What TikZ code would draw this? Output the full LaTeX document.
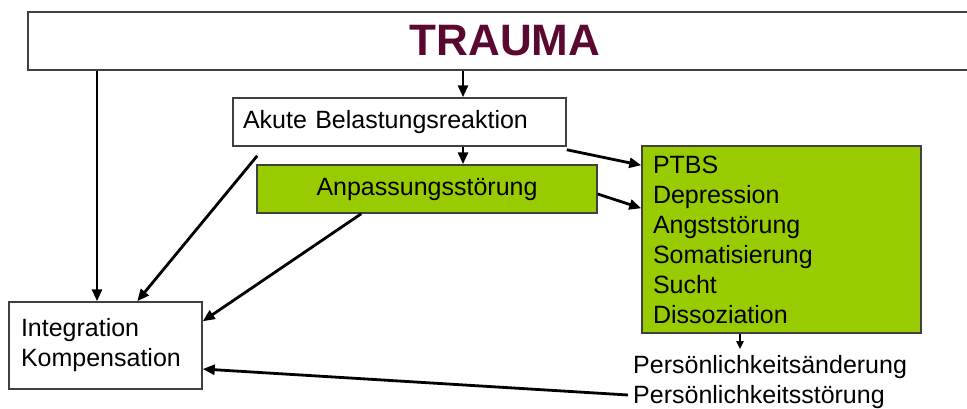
\documentclass[tikz,border=0pt]{standalone}
\usepackage{fontspec}
\setmainfont{Liberation Sans}
\usepackage{xcolor}
\usetikzlibrary{arrows.meta}
\definecolor{traumarot}{RGB}{90,8,48}
\definecolor{kastengruen}{RGB}{153,204,0}
\definecolor{kastenrand}{RGB}{64,64,64}

\begin{document}
\begin{tikzpicture}[x=1pt, y=-1pt,
		kasten/.style={draw=kastenrand, line width=1.5pt, inner ysep=0pt, font=\fontsize{25}{30}\selectfont},
		pfeil/.style={-{Triangle[length=12pt,width=10pt]}, line width=2.8pt}]
		\path[use as bounding box, clip] (0,0) rectangle (967,408);

		\node[kasten, minimum width=954pt, minimum height=58pt, text=traumarot, font=\fontsize{44}{50}\bfseries\selectfont] (trauma) at (505,41) {TRAUMA};
		\node[kasten, text width=313pt, inner xsep=10pt, minimum height=48pt, align=left] (akute) at (399.5,122) {Akute Belastungsreaktion};
		\node[kasten, fill=kastengruen, minimum width=340pt, minimum height=48pt] (anpassung) at (427,189) {Anpassungsstörung};
		\node[kasten, fill=kastengruen, text width=257pt, inner xsep=11pt, minimum height=187pt, align=left] (stoerungen) at (781.5,239.5) {PTBS\\Depression\\Angststörung\\Somatisierung\\Sucht\\Dissoziation};
		\node[kasten, text width=169pt, inner xsep=12pt, minimum height=87pt, align=left] (integration) at (105.5,345.5) {Integration\\Kompensation};
		\node[anchor=west, inner xsep=0pt, inner ysep=6pt, align=left, font=\fontsize{25}{30}\selectfont] (persoenlichkeit) at (633,382) {Persönlichkeitsänderung\\Persönlichkeitsstörung};

		\coordinate (links) at (97,0);
		\coordinate (mitte) at (463,0);
		\coordinate (unten) at (740,0);

		\draw[pfeil] (trauma.south -| links) -- (integration.north -| links);
		\draw[pfeil] (trauma.south -| mitte) -- (akute.north -| mitte);
		\draw[pfeil] (akute.south -| mitte) -- (anpassung.north -| mitte);
		\draw[pfeil] ([yshift=-3pt]akute.south east) -- ([yshift=-20pt]stoerungen.north west);
		\draw[pfeil] ([yshift=-5pt]anpassung.east) -- ([yshift=-63pt]stoerungen.north west);
		\draw[pfeil] ([xshift=25pt,yshift=-9pt]akute.south west) -- ([xshift=129pt]integration.north west);
		\draw[pfeil] ([xshift=105pt]anpassung.south west) -- ([yshift=-20pt]integration.north east);
		\draw[-{Triangle[length=8pt,width=7pt]}, line width=2pt] (stoerungen.south -| unten) -- (persoenlichkeit.north -| unten);
		\draw[pfeil] ([xshift=-5pt,yshift=-13pt]persoenlichkeit.west) -- ([yshift=-23.5pt]integration.east);
	\end{tikzpicture}
\end{document}
